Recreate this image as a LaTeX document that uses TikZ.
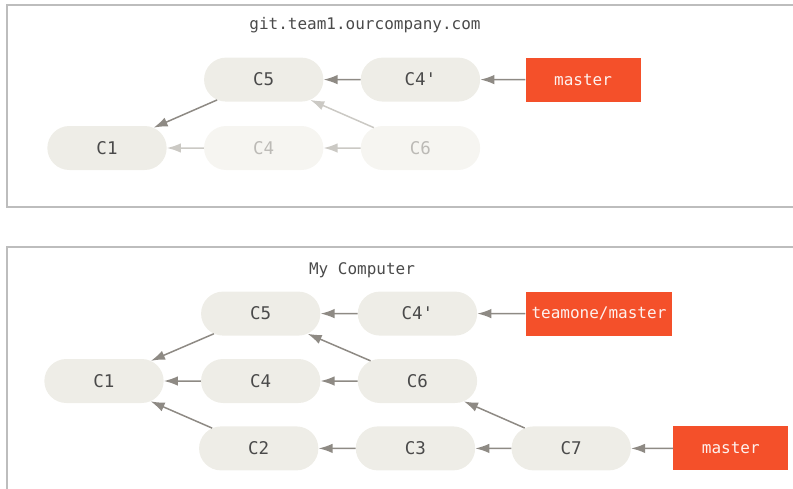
\documentclass[tikz,border=0pt]{standalone}
\usepackage{fontspec}
\setmonofont{DejaVu Sans Mono}
\usetikzlibrary{positioning,shapes.misc,arrows.meta}
\definecolor{gitRed}{HTML}{F4502A}
\definecolor{commitFill}{HTML}{EEEDE7}
\definecolor{ghostFill}{HTML}{F6F5F1}
\definecolor{arrowGray}{HTML}{8E8A84}
\definecolor{ghostGray}{HTML}{CBC9C4}
\definecolor{panelGray}{HTML}{BDBDBD}
\definecolor{labelGray}{HTML}{4A4A4A}

\begin{document}
\begin{tikzpicture}[x=1pt, y=-1pt, font=\ttfamily\fontsize{16}{19}\selectfont,
      commit/.style={rounded rectangle, fill=commitFill, text=labelGray,
                     font=\ttfamily\fontsize{17.5}{20}\selectfont,
                     minimum width=126pt, minimum height=44pt},
      ghost/.style={commit, fill=ghostFill, text=ghostGray!80!gray},
      branch/.style={rectangle, fill=gitRed, text=white!92!gitRed, inner xsep=6pt,
                     minimum width=115pt, minimum height=44pt},
      arr/.style={-{Latex[length=14pt,width=9.5pt]}, line width=1.5pt, arrowGray},
      ghostarr/.style={arr, ghostGray},
      panel/.style={draw=panelGray, line width=1.4pt}]
    \useasboundingbox (0,0) rectangle (793,488);

    % server side
    \draw[panel] (820,5) -| (7,207) -- (820,207);
    \node[text=labelGray] (srvTitle) at (365,25) {git.team1.ourcompany.com};
    \node[commit] (tC1) at (107,148) {C1};
    \node[ghost, right=37pt of tC1] (tC4) {C4};
    \node[commit, above=24pt of tC4] (tC5) {C5};
    \node[commit, right=37pt of tC5] (tC4p) {C4'};
    \node[ghost, right=37pt of tC4] (tC6) {C6};
    \node[branch, right=45pt of tC4p] (tMaster) {master};
    \draw[arr] (tMaster) -- (tC4p);
    \draw[arr] (tC4p) -- (tC5);
    \draw[arr] (tC5) -- (tC1);
    \draw[ghostarr] (tC4) -- (tC1);
    \draw[ghostarr] (tC6) -- (tC4);
    \draw[ghostarr] (tC6) -- (tC5);

    % local side
    \draw[panel] (820,247) -| (7,520);
    \node[text=labelGray] (myTitle) at (362,270) {My Computer};
    \node[commit] (bC1) at (104,381) {C1};
    \node[commit, right=37pt of bC1] (bC4) {C4};
    \node[commit, above=23pt of bC4] (bC5) {C5};
    \node[commit, below=23pt of bC4, xshift=-2pt] (bC2) {C2};
    \node[commit, right=37pt of bC5] (bC4p) {C4'};
    \node[commit, right=37pt of bC4] (bC6) {C6};
    \node[commit, right=37pt of bC2] (bC3) {C3};
    \node[commit, right=36pt of bC3] (bC7) {C7};
    \node[branch, right=48pt of bC4p] (bTeam) {teamone/master};
    \node[branch, right=42pt of bC7] (bMaster) {master};
    \draw[arr] (bTeam) -- (bC4p);
    \draw[arr] (bC4p) -- (bC5);
    \draw[arr] (bC5) -- (bC1);
    \draw[arr] (bC4) -- (bC1);
    \draw[arr] (bC2) -- (bC1);
    \draw[arr] (bC6) -- (bC4);
    \draw[arr] (bC6) -- (bC5);
    \draw[arr] (bC3) -- (bC2);
    \draw[arr] (bC7) -- (bC3);
    \draw[arr] (bC7) -- (bC6);
    \draw[arr] (bMaster) -- (bC7);
  \end{tikzpicture}
\end{document}
